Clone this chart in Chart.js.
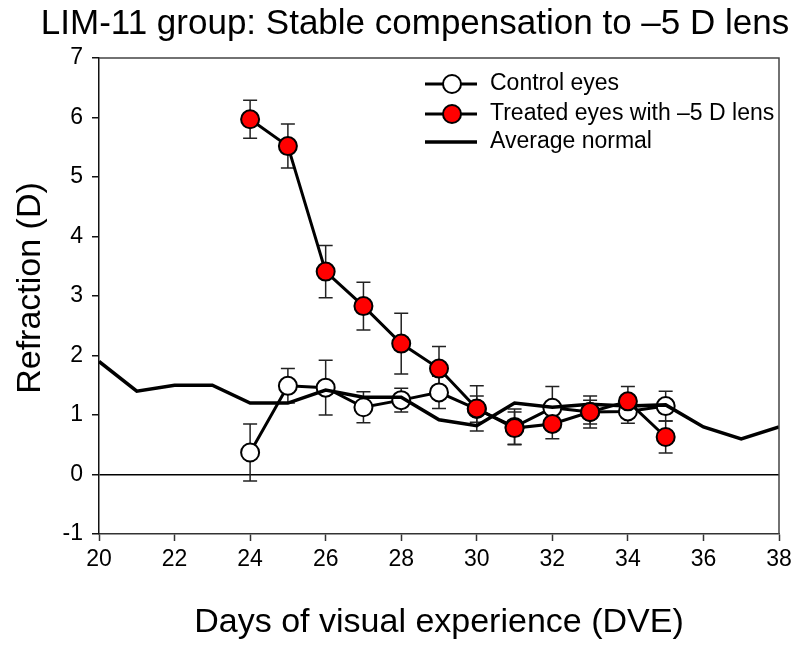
<!DOCTYPE html>
<html>
<head>
<meta charset="utf-8">
<script src="https://cdn.jsdelivr.net/npm/chart.js@4/dist/chart.umd.min.js"></script>
<style>
  body { margin: 0; background: #fff; }
  canvas { display: block; }
</style>
</head>
<body>
<canvas id="graphs" width="800" height="646"></canvas>
<script>
// days of visual experience with measurements
const days = [24, 25, 26, 27, 28, 29, 30, 31, 32, 33, 34, 35];
const controlValues = [0.37, 1.49, 1.46, 1.13, 1.25, 1.38, 1.10, 0.80, 1.12, 1.05, 1.06, 1.15];
const controlErrors = [0.48, 0.29, 0.46, 0.26, 0.20, 0.27, 0.22, 0.30, 0.36, 0.20, 0.20, 0.25];
const treatedValues = [5.97, 5.52, 3.41, 2.83, 2.20, 1.78, 1.11, 0.78, 0.85, 1.05, 1.23, 0.63];
const treatedErrors = [0.32, 0.37, 0.44, 0.40, 0.51, 0.37, 0.38, 0.27, 0.25, 0.27, 0.25, 0.27];

// average normal curve
const normalDays = [20, 21, 22, 23, 24, 25, 26, 27, 28, 29, 30, 31, 32, 33, 34, 35, 36, 37, 38];
const normalValues = [1.9, 1.4, 1.5, 1.5, 1.2, 1.2, 1.42, 1.3, 1.3, 0.92, 0.82, 1.2, 1.13, 1.18, 1.15, 1.17, 0.8, 0.6, 0.8];

const xTicks = [20, 22, 24, 26, 28, 30, 32, 34, 36, 38];
const yTicks = [-1, 0, 1, 2, 3, 4, 5, 6, 7];

const FONT = 'Liberation Sans, Arial, sans-serif';

function toPoints(xs, ys) {
  return xs.map((x, i) => ({x: x, y: ys[i]}));
}

const errorBars = {
  id: 'errorBars',
  beforeDatasetsDraw(chart) {
    const ctx = chart.ctx;
    const x = chart.scales.x;
    const y = chart.scales.y;
    ctx.save();
    ctx.strokeStyle = '#222';
    ctx.lineWidth = 1.5;
    [[controlValues, controlErrors], [treatedValues, treatedErrors]].forEach(([vals, errs]) => {
      days.forEach((d, i) => {
        const px = x.getPixelForValue(d);
        const top = y.getPixelForValue(vals[i] + errs[i]);
        const bot = y.getPixelForValue(vals[i] - errs[i]);
        ctx.beginPath();
        ctx.moveTo(px, top); ctx.lineTo(px, bot);
        ctx.moveTo(px - 7, top); ctx.lineTo(px + 7, top);
        ctx.moveTo(px - 7, bot); ctx.lineTo(px + 7, bot);
        ctx.stroke();
      });
    });
    ctx.restore();
  }
};

const decorations = {
  id: 'decorations',
  afterDraw(chart) {
    const ctx = chart.ctx;
    const a = chart.chartArea;
    ctx.save();
    // top and right frame
    ctx.strokeStyle = '#444';
    ctx.lineWidth = 1.5;
    ctx.beginPath();
    ctx.moveTo(a.left, a.top);
    ctx.lineTo(a.right, a.top);
    ctx.lineTo(a.right, a.bottom);
    ctx.stroke();

    // title
    ctx.fillStyle = '#000';
    ctx.font = '35px ' + FONT;
    ctx.textAlign = 'center';
    ctx.textBaseline = 'middle';
    ctx.fillText('LIM-11 group: Stable compensation to \u20135 D lens', 415, 24);

    // y axis title
    ctx.font = '34px ' + FONT;
    ctx.translate(31, 288);
    ctx.rotate(-Math.PI / 2);
    ctx.fillText('Refraction (D)', 0, 0);
    ctx.setTransform(1, 0, 0, 1, 0, 0);

    // legend
    ctx.font = '23px ' + FONT;
    ctx.textAlign = 'left';
    const rows = [84, 114, 142];
    [0, 1, 2].forEach((k, i) => {
      const ds = chart.data.datasets[k];
      const ly = rows[i];
      ctx.strokeStyle = ds.borderColor;
      ctx.lineWidth = ds.borderWidth;
      ctx.beginPath();
      ctx.moveTo(425, ly); ctx.lineTo(477, ly);
      ctx.stroke();
      if (ds.pointRadius > 0) {
        ctx.beginPath();
        ctx.arc(452, ly, ds.pointRadius, 0, Math.PI * 2);
        ctx.fillStyle = ds.pointBackgroundColor;
        ctx.fill();
        ctx.lineWidth = ds.pointBorderWidth;
        ctx.strokeStyle = ds.pointBorderColor;
        ctx.stroke();
      }
      ctx.fillStyle = '#000';
      ctx.fillText(ds.label, 490, ly);
    });
    ctx.restore();
  }
};

const config = {
  type: 'line',
  data: {
    datasets: [
      {
        label: 'Control eyes',
        data: toPoints(days, controlValues),
        borderColor: '#000',
        borderWidth: 3,
        pointRadius: 9,
        pointBorderWidth: 2,
        pointBorderColor: '#000',
        pointBackgroundColor: '#fff',
        order: 3
      },
      {
        label: 'Treated eyes with \u20135 D lens',
        data: toPoints(days, treatedValues),
        borderColor: '#000',
        borderWidth: 3,
        pointRadius: 9,
        pointBorderWidth: 2,
        pointBorderColor: '#000',
        pointBackgroundColor: '#f00',
        order: 1
      },
      {
        label: 'Average normal',
        data: toPoints(normalDays, normalValues),
        borderColor: '#000',
        borderWidth: 3.5,
        pointRadius: 0,
        order: 2
      }
    ]
  },
  options: {
    responsive: false,
    animation: false,
    devicePixelRatio: 1,
    layout: {padding: {top: 58, right: 21, bottom: 0, left: 0}},
    plugins: {
      legend: {display: false},
      title: {display: false},
      tooltip: {enabled: false}
    },
    scales: {
      x: {
        type: 'linear',
        min: 20,
        max: 38,
        afterFit: (scale) => {
          scale.height = 112;
          scale.paddingLeft = 0;
          scale.paddingRight = 0;
        },
        afterBuildTicks: (scale) => { scale.ticks = xTicks.map(v => ({value: v})); },
        border: {color: '#333', width: 1.5},
        grid: {drawOnChartArea: false, tickLength: 7, tickColor: '#333', tickWidth: 1.5},
        ticks: {color: '#000', font: {family: FONT, size: 23}, padding: 5, maxRotation: 0},
        title: {
          display: true,
          text: 'Days of visual experience (DVE)',
          color: '#000',
          font: {family: FONT, size: 34},
          padding: {top: 0, bottom: 3}
        }
      },
      y: {
        min: -1,
        max: 7,
        afterFit: (scale) => { scale.width = 99; },
        afterBuildTicks: (scale) => { scale.ticks = yTicks.map(v => ({value: v})); },
        border: {color: '#111', width: 1.5},
        grid: {
          color: (c) => (c.tick && c.tick.value === 0 ? '#000' : 'rgba(0,0,0,0)'),
          lineWidth: 1.5,
          tickLength: 7,
          tickColor: '#111',
          tickWidth: 1.5
        },
        ticks: {color: '#000', font: {family: FONT, size: 23}, padding: 9}
      }
    }
  },
  plugins: [errorBars, decorations]
};

window.onload = function() {
  let ctx = document.querySelector('#graphs').getContext('2d');
  window.myChart = new Chart(ctx, config);
};
</script>
</body>
</html>
